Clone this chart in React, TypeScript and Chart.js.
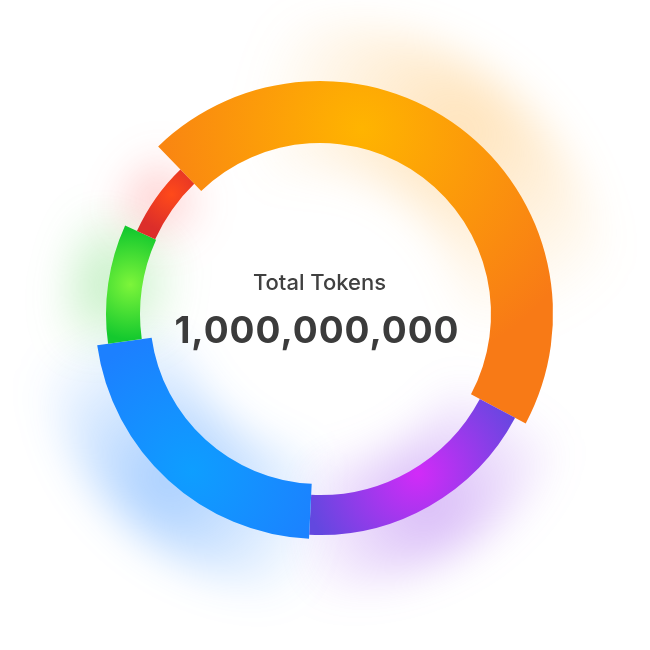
import React, { useEffect, useRef } from "react";
import { Chart, registerables } from "chart.js";

Chart.register(...registerables);

// ---- data ----
const LABELS = ["Orange", "Purple", "Blue", "Green", "Red"];
const VALUES = [45, 18, 22, 9, 6];
const CENTER_TITLE = "Total Tokens";
const CENTER_VALUE = "1,000,000,000";

// ---- styles ----
const ROTATION = -44;
const INNER_R = [171, 181, 170, 180, 181];
const OUTER_R = [233, 221, 225, 214, 201];
const HIGHLIGHT_COLOR = ["#FFB400", "#D22BF8", "#0E9EFF", "#7DF53A", "#FF4A1A"];
const EDGE_COLOR = ["#F87A16", "#6248DF", "#1C80FF", "#14C92E", "#DC2E2A"];
const HL_ANGLE_FRAC = [0.35, 0.47, 0.46, 0.52, 0.67];
const HL_RADIUS_FRAC = [0.3, 0.15, 0.6, 0.35, 0.5];
const GRAD_REACH = [250, 115, 140, 55, 38];
const GLOW_RGB = ["255,172,50", "150,70,235", "30,130,255", "60,205,60", "255,60,60"];
const GLOW_ALPHA = [0.34, 0.38, 0.4, 0.32, 0.3];
const GLOW_REACH = [210, 150, 170, 85, 55];
const GLOW_OUT = [60, 55, 60, 40, 30];

function segmentFill(c: any) {
  const chart = c.chart;
  const area = chart.chartArea;
  const i = c.dataIndex;
  if (!area || i === undefined) return EDGE_COLOR[i ?? 0];
  const data = chart.data.datasets[0].data as number[];
  const total = data.reduce((s, v) => s + v, 0);
  let before = 0;
  for (let k = 0; k < i; k++) before += data[k];
  const base = ((ROTATION - 90) * Math.PI) / 180;
  const a0 = base + (before / total) * Math.PI * 2;
  const a1 = a0 + (data[i] / total) * Math.PI * 2;
  const am = a0 + (a1 - a0) * HL_ANGLE_FRAC[i];
  const rm = INNER_R[i] + (OUTER_R[i] - INNER_R[i]) * HL_RADIUS_FRAC[i];
  const cx = (area.left + area.right) / 2;
  const cy = (area.top + area.bottom) / 2;
  const hx = cx + Math.cos(am) * rm;
  const hy = cy + Math.sin(am) * rm;
  const g = chart.ctx.createRadialGradient(hx, hy, 0, hx, hy, GRAD_REACH[i]);
  g.addColorStop(0, HIGHLIGHT_COLOR[i]);
  g.addColorStop(1, EDGE_COLOR[i]);
  return g;
}

const ringPlugin = {
  id: "ringWidths",
  afterDatasetsUpdate(chart: any) {
    const meta = chart.getDatasetMeta(0);
    meta.data.forEach((el: any, i: number) => {
      el.innerRadius = INNER_R[i];
      el.outerRadius = OUTER_R[i];
    });
  },
};

const glowPlugin = {
  id: "glow",
  beforeDatasetsDraw(chart: any) {
    const ctx = chart.ctx as CanvasRenderingContext2D;
    const meta = chart.getDatasetMeta(0);
    meta.data.forEach((el: any, i: number) => {
      const { x, y, startAngle, endAngle, innerRadius, outerRadius } = el;
      const mid = (startAngle + endAngle) / 2;
      const gr = outerRadius;
      const gx = x + Math.cos(mid) * gr;
      const gy = y + Math.sin(mid) * gr;
      const grad = ctx.createRadialGradient(gx, gy, 0, gx, gy, GLOW_REACH[i]);
      grad.addColorStop(0, `rgba(${GLOW_RGB[i]},${GLOW_ALPHA[i]})`);
      grad.addColorStop(1, `rgba(${GLOW_RGB[i]},0)`);
      ctx.save();
      ctx.filter = "blur(20px)";
      ctx.fillStyle = grad;
      ctx.beginPath();
      ctx.arc(x, y, outerRadius + GLOW_OUT[i], startAngle, endAngle);
      ctx.arc(x, y, Math.max(0, innerRadius - 30), endAngle, startAngle, true);
      ctx.closePath();
      ctx.fill();
      ctx.restore();
    });
  },
};

export default function App() {
  const ref = useRef<HTMLCanvasElement | null>(null);
  useEffect(() => {
    if (!ref.current) return;
    const chart = new Chart(ref.current, {
      type: "doughnut",
      data: {
        labels: LABELS,
        datasets: [
          {
            data: VALUES,
            backgroundColor: segmentFill as any,
            borderWidth: 0,
            hoverOffset: 0,
          },
        ],
      },
      options: {
        animation: false,
        responsive: true,
        maintainAspectRatio: false,
        events: [],
        rotation: ROTATION,
        cutout: "70%",
        layout: { padding: { left: 0, right: 10, top: 0, bottom: 22 } },
        plugins: { legend: { display: false }, tooltip: { enabled: false } },
      },
      plugins: [ringPlugin, glowPlugin],
    });
    return () => chart.destroy();
  }, []);

  return (
    <div
      style={{
        position: "fixed",
        left: 0,
        top: 0,
        width: 650,
        height: 650,
        background: "#ffffff",
        overflow: "hidden",
      }}
    >
      <canvas ref={ref} />
      <div
        style={{
          position: "absolute",
          left: 0,
          width: 639,
          top: 271,
          textAlign: "center",
          fontFamily: "Inter, 'Noto Sans', sans-serif",
          fontWeight: 500,
          fontSize: 22,
          lineHeight: "22px",
          color: "#404040",
          pointerEvents: "none",
        }}
      >
        {CENTER_TITLE}
      </div>
      <div
        style={{
          position: "absolute",
          left: 0,
          width: 634,
          top: 311,
          textAlign: "center",
          fontFamily: "Inter, 'Noto Sans', sans-serif",
          fontWeight: 700,
          fontSize: 37,
          lineHeight: "37px",
          letterSpacing: 1,
          color: "#3b3b3b",
          pointerEvents: "none",
        }}
      >
        {CENTER_VALUE}
      </div>
    </div>
  );
}
